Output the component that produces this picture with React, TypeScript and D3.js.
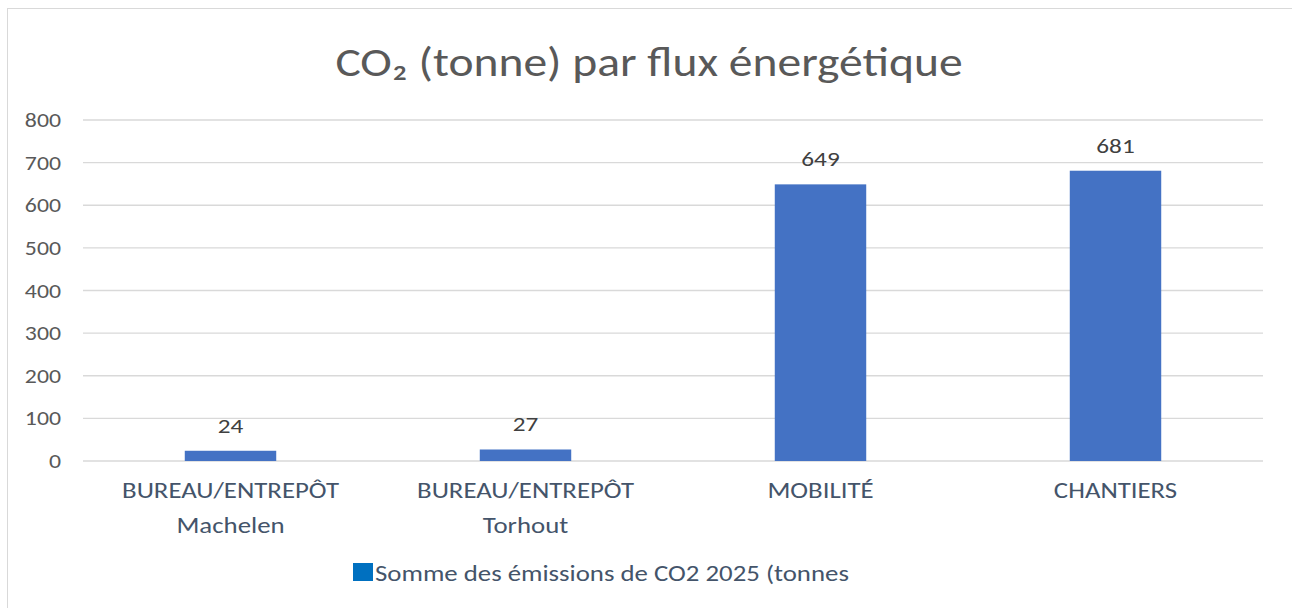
import { useMemo } from "react";
import * as d3 from "d3";

const categories = [
  ["BUREAU/ENTREPÔT", "Machelen"],
  ["BUREAU/ENTREPÔT", "Torhout"],
  ["MOBILITÉ"],
  ["CHANTIERS"],
];
const values = [24, 27, 649, 681];
const yTicks = [0, 100, 200, 300, 400, 500, 600, 700, 800];
const seriesName = "Somme des émissions de CO2 2025 (tonnes";
const title = "CO₂ (tonne) par flux énergétique";

const WIDTH = 1292;
const HEIGHT = 608;
const FONT = "Carlito, Calibri, Lato, 'Liberation Sans', sans-serif";

// the source text is a bit wider than the installed font, so stretch it sideways
const Label = ({ x, y, size, fill, anchor = "middle", sx = 1.2, children }: any) => (
  <g transform={`translate(${x},${y}) scale(${sx},1)`}>
    <text textAnchor={anchor} fontSize={size} fill={fill}>
      {children}
    </text>
  </g>
);

export default function App() {
  const x = useMemo(
    () =>
      d3
        .scaleBand<number>()
        .domain(values.map((_, i) => i))
        .range([83, 1263])
        .paddingInner(0.69)
        .paddingOuter(0.345),
    []
  );
  const y = useMemo(() => d3.scaleLinear().domain([0, 800]).range([461, 120]), []);
  const cx = (i: number) => (x(i) ?? 0) + x.bandwidth() / 2;

  return (
    <svg
      width={WIDTH}
      height={HEIGHT}
      style={{ position: "absolute", left: 0, top: 0, background: "#fff" }}
      fontFamily={FONT}
    >
      <rect x={7.5} y={8.5} width={1290} height={620} fill="#fff" stroke="#d9d9d9" />

      <Label x={649} y={76} size={41} fill="#595959" sx={1.16}>
        {title}
      </Label>

      {yTicks.map((t) => (
        <g key={t}>
          <line x1={83} x2={1263} y1={y(t)} y2={y(t)} stroke="#d9d9d9" strokeWidth={1.3} />
          <Label x={61} y={y(t) + 7} size={19.5} fill="#595959" anchor="end" sx={1.22}>
            {t}
          </Label>
        </g>
      ))}

      {values.map((v, i) => (
        <g key={i}>
          <rect x={x(i)} y={y(v)} width={x.bandwidth()} height={y(0) - y(v)} fill="#4472c4" />
          <Label x={cx(i)} y={y(v) - 18} size={21} fill="#404040">
            {v}
          </Label>
          {categories[i].map((line, j) => (
            <Label key={j} x={cx(i)} y={498 + j * 35} size={22} fill="#44546a" sx={1.22}>
              {line}
            </Label>
          ))}
        </g>
      ))}

      <rect x={353} y={563} width={20} height={18} fill="#0070c0" />
      <Label x={375} y={581} size={22} fill="#44546a" anchor="start" sx={1.22}>
        {seriesName}
      </Label>
    </svg>
  );
}
